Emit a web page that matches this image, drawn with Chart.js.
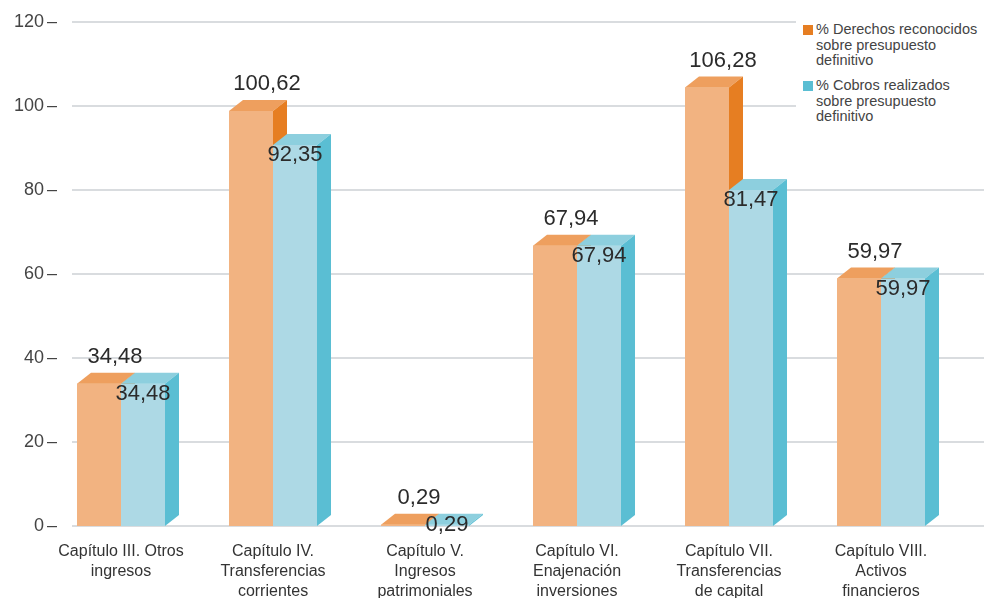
<!DOCTYPE html>
<html>
<head>
<meta charset="utf-8">
<script src="https://cdn.jsdelivr.net/npm/chart.js@4.4.1/dist/chart.umd.min.js"></script>
<style>
  body { margin: 0; background: #fff; }
  #wrap { position: relative; width: 989px; height: 598px; }
  #legend {
    position: absolute; left: 796px; top: 12px; width: 193px; height: 116px;
    background: #fff; font-family: "Liberation Sans", Arial, sans-serif;
    font-size: 14.5px; line-height: 15.5px; color: #444;
  }
  .item { position: absolute; left: 20px; }
  .item span.box { position: absolute; left: -13px; top: 3px; width: 10px; height: 10px; }
</style>
</head>
<body>
<div id="wrap">
  <canvas id="chart" width="989" height="598"></canvas>
  <div id="legend">
    <div class="item" style="top:10px"><span class="box" style="background:#E67E22"></span>% Derechos reconocidos<br>sobre presupuesto<br>definitivo</div>
    <div class="item" style="top:66px"><span class="box" style="background:#5ABED3"></span>% Cobros realizados<br>sobre presupuesto<br>definitivo</div>
  </div>
</div>
<script>
// Datos del gráfico
const categories = [
  ['Capítulo III. Otros', 'ingresos'],
  ['Capítulo IV.', 'Transferencias', 'corrientes'],
  ['Capítulo V.', 'Ingresos', 'patrimoniales'],
  ['Capítulo VI.', 'Enajenación', 'inversiones'],
  ['Capítulo VII.', 'Transferencias', 'de capital'],
  ['Capítulo VIII.', 'Activos', 'financieros']
];
const derechos = [34.48, 100.62, 0.29, 67.94, 106.28, 59.97];
const cobros = [34.48, 92.35, 0.29, 67.94, 81.47, 59.97];
const yTicks = [0, 20, 40, 60, 80, 100, 120];

// colores: frente, tapa, lateral
const orange = ['#F2B381', '#EE9F5E', '#E67E22'];
const blue = ['#ADD9E5', '#8DCFDE', '#5ABED3'];
const DX = 14, DY = 11;   // profundidad 3D
const WALL = 1.018;       // la pared del fondo esta un poco mas estirada

const fmt = v => v.toFixed(2).replace('.', ',');

function box(ctx, e, cols) {
  const l = e.x - e.width / 2, r = e.x + e.width / 2, t = e.y, b = e.base;
  ctx.fillStyle = cols[0];
  ctx.fillRect(l, t, r - l, b - t);
  ctx.fillStyle = cols[1];
  ctx.beginPath();
  ctx.moveTo(l, t); ctx.lineTo(l + DX, t - DY); ctx.lineTo(r + DX, t - DY); ctx.lineTo(r, t);
  ctx.closePath(); ctx.fill();
  ctx.fillStyle = cols[2];
  ctx.beginPath();
  ctx.moveTo(r, t); ctx.lineTo(r + DX, t - DY); ctx.lineTo(r + DX, b - DY); ctx.lineTo(r, b);
  ctx.closePath(); ctx.fill();
}

const bar3d = {
  id: 'bar3d',
  beforeDatasetsDraw(chart) {
    const ctx = chart.ctx, y = chart.scales.y;
    const zero = y.getPixelForValue(0);
    ctx.save();
    ctx.strokeStyle = '#CDD1D5';
    ctx.lineWidth = 1.5;
    ctx.font = '18px "Liberation Sans", Arial, sans-serif';
    ctx.fillStyle = '#444';
    ctx.textBaseline = 'middle';
    yTicks.forEach(v => {
      const py = zero - (zero - y.getPixelForValue(v)) * WALL;
      ctx.beginPath(); ctx.moveTo(72, py); ctx.lineTo(984, py); ctx.stroke();
      ctx.textAlign = 'right';
      ctx.fillText(String(v), 44, py);
      ctx.textAlign = 'left';
      ctx.fillText('–', 47, py);
    });
    ctx.restore();
  },
  afterDatasetsDraw(chart) {
    const ctx = chart.ctx;
    const m0 = chart.getDatasetMeta(0).data, m1 = chart.getDatasetMeta(1).data;
    ctx.save();
    m0.forEach((e0, i) => {
      const e1 = m1[i];
      box(ctx, e0, orange);
      box(ctx, e1, blue);
    });
    ctx.font = '22px "Liberation Sans", Arial, sans-serif';
    ctx.fillStyle = '#2b2b2b';
    ctx.textAlign = 'center';
    ctx.textBaseline = 'alphabetic';
    m0.forEach((e0, i) => {
      const e1 = m1[i];
      ctx.fillText(fmt(derechos[i]), e0.x + 16, e0.y - 21);
      ctx.fillText(fmt(cobros[i]), e1.x, Math.min(e1.y + 16, e1.base + 5));
    });
    ctx.restore();
  }
};

new Chart(document.getElementById('chart'), {
  type: 'bar',
  data: {
    labels: categories,
    datasets: [
      { label: '% Derechos reconocidos sobre presupuesto definitivo', data: derechos, backgroundColor: orange[0] },
      { label: '% Cobros realizados sobre presupuesto definitivo', data: cobros, backgroundColor: blue[0] }
    ]
  },
  options: {
    responsive: false,
    animation: false,
    devicePixelRatio: 1,
    layout: { padding: { left: 45, right: 32, top: 31, bottom: -20 } },
    categoryPercentage: 0.579,
    barPercentage: 1,
    plugins: { legend: { display: false }, tooltip: { enabled: false } },
    scales: {
      x: {
        grid: { display: false, drawTicks: false },
        border: { display: false },
        ticks: {
          padding: 16,
          color: '#333',
          maxRotation: 0,
          autoSkip: false,
          font: { family: '"Liberation Sans", Arial, sans-serif', size: 16, lineHeight: 1.25 }
        }
      },
      y: { display: false, min: 0, max: 120 }
    }
  },
  plugins: [bar3d]
});
</script>
</body>
</html>
